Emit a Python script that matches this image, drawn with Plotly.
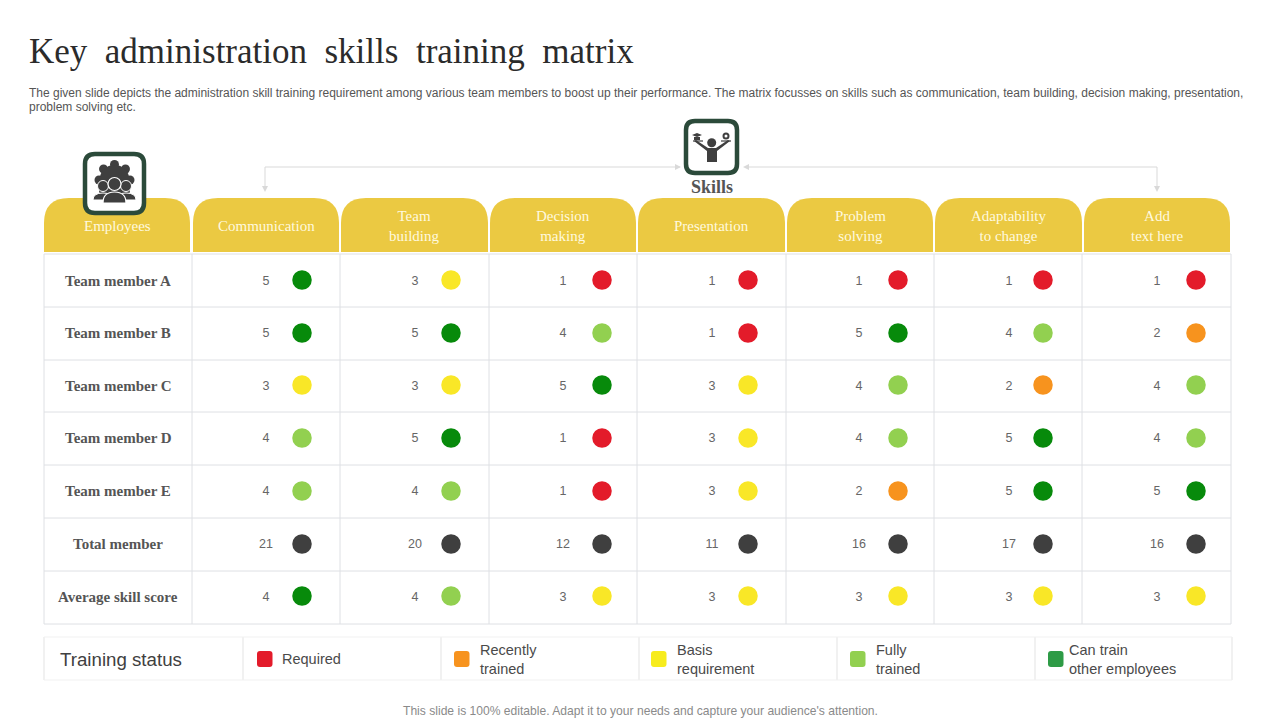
"""Key administration skills training matrix, drawn on a 1280x720 pixel axis."""

import math

import plotly.graph_objects as go

TITLE = "Key\u00a0 administration\u00a0 skills\u00a0 training\u00a0 matrix"
SUBTITLE = [
    "The given slide depicts the administration skill training requirement among various team members to boost up their performance. The matrix focusses on skills such as communication, team building, decision making, presentation,",
    "problem solving etc.",
]
FOOTER = "This slide is 100% editable. Adapt it to your needs and capture your audience's attention."

headers = [
    "Employees",
    "Communication",
    "Team<br>building",
    "Decision<br>making",
    "Presentation",
    "Problem<br>solving",
    "Adaptability<br>to change",
    "Add<br>text here",
]
rows = [
    "Team member A",
    "Team member B",
    "Team member C",
    "Team member D",
    "Team member E",
    "Total member",
    "Average skill score",
]
member_a = [5, 3, 1, 1, 1, 1, 1]
member_b = [5, 5, 4, 1, 5, 4, 2]
member_c = [3, 3, 5, 3, 4, 2, 4]
member_d = [4, 5, 1, 3, 4, 5, 4]
member_e = [4, 4, 1, 3, 2, 5, 5]
totals = [21, 20, 12, 11, 16, 17, 16]
averages = [4, 4, 3, 3, 3, 3, 3]
average_status = [5, 4, 3, 3, 3, 3, 3]

legend_labels = ["Required", "Recently<br>trained", "Basis<br>requirement", "Fully<br>trained", "Can train<br>other employees"]
legend_colors = ["#E31B2A", "#F7931E", "#F7EC1D", "#92D050", "#2E9B46"]
status_colors = {1: "#E31B2A", 2: "#F7931E", 3: "#F9E727", 4: "#92D050", 5: "#078A0B"}
TOTAL_DOT = "#3F3F3F"

# layout, in pixels
col_lines = [44, 192, 340, 489, 637, 786, 934, 1082, 1231]
row_lines = [254, 307, 360, 412, 465, 518, 571, 624]
row_y = [281, 333, 386, 438, 491, 544, 597]
dot_y = [280, 333, 385, 438, 491, 544, 596]
value_y = [282, 334, 387, 439, 492, 545, 598]
value_x = [266, 415, 563, 712, 859, 1009, 1157]
dot_x = [302, 451, 602, 748, 898, 1043, 1196]
header_left = [44, 193, 341, 490, 638, 787, 935, 1084]
header_right = [190, 339, 488, 636, 785, 933, 1082, 1230]
legend_lines = [44, 243, 441, 639, 837, 1035, 1232]
swatch_left = [257, 454, 651, 850, 1048]
legend_text_x = [282, 480, 677, 876, 1069]

HEADER_COLOR = "#EBC942"
HEADER_TEXT = "#FFF9DF"
GRID = "#DEE0E4"
ICON_FRAME = "#2B4A3A"
ICON = "#3F3F3F"
TEXT = "#555555"
SERIF = "Liberation Serif"
SANS = "Liberation Sans"


def rounded_rect(x0, y0, x1, y1, r):
    return (
        f"M{x0 + r},{y0} L{x1 - r},{y0} Q{x1},{y0} {x1},{y0 + r} L{x1},{y1 - r} Q{x1},{y1} {x1 - r},{y1} "
        f"L{x0 + r},{y1} Q{x0},{y1} {x0},{y1 - r} L{x0},{y0 + r} Q{x0},{y0} {x0 + r},{y0} Z"
    )


def tab(x0, y0, x1, y1, r):
    return f"M{x0},{y1} L{x0},{y0 + r} Q{x0},{y0} {x0 + r},{y0} L{x1 - r},{y0} Q{x1},{y0} {x1},{y0 + r} L{x1},{y1} Z"


def line(x0, y0, x1, y1, color=GRID, width=1):
    return dict(type="line", x0=x0, y0=y0, x1=x1, y1=y1, line=dict(color=color, width=width), layer="below")


def path(d, fill=ICON, stroke=None, width=0):
    return dict(type="path", path=d, fillcolor=fill, line=dict(color=stroke or fill, width=width), layer="above")


def circle(cx, cy, r, fill=ICON, stroke=None, width=0):
    return dict(
        type="circle",
        x0=cx - r,
        y0=cy - r,
        x1=cx + r,
        y1=cy + r,
        fillcolor=fill,
        line=dict(color=stroke or fill, width=width),
        layer="above",
    )


def label(x, y, text, size, color=TEXT, family=SANS, anchor="left"):
    return dict(
        x=x,
        y=y,
        text=text,
        showarrow=False,
        xanchor=anchor,
        yanchor="middle",
        align=anchor,
        borderpad=0,
        font=dict(size=size, color=color, family=family),
    )


shapes = []
annotations = []

# header tabs
for i, name in enumerate(headers):
    shapes.append(path(tab(header_left[i], 198, header_right[i], 252, 25), fill=HEADER_COLOR))
    annotations.append(
        label((header_left[i] + header_right[i]) / 2, 225.5, name, 15, HEADER_TEXT, SERIF, "center")
    )

# table grid
for x in col_lines:
    shapes.append(line(x, row_lines[0], x, row_lines[-1]))
for y in row_lines:
    shapes.append(line(col_lines[0], y, col_lines[-1], y))
for y, name in zip(row_y, rows):
    annotations.append(label(118, y, f"<b>{name}</b>", 15, TEXT, SERIF, "center"))

# connector from the skills icon to the first and last column
connector = "#D9D9D9"
shapes += [
    line(265, 167, 680, 167, connector),
    line(265, 167, 265, 188, connector),
    line(746, 167, 1157, 167, connector),
    line(1157, 167, 1157, 188, connector),
    path("M681,167 L675,164 L675,170 Z", connector),
    path("M743,167 L749,164 L749,170 Z", connector),
    path("M265,192 L262,186 L268,186 Z", connector),
    path("M1157,192 L1154,186 L1160,186 Z", connector),
]

# employees icon: gear behind three people
shapes.append(path(rounded_rect(85, 154, 144, 213, 10), "#FFFFFF", ICON_FRAME, 4.5))
for k in range(8):
    a = k * math.pi / 4 - math.pi / 2
    shapes.append(circle(114.5 + 15.5 * math.cos(a), 180 + 15.5 * math.sin(a), 4.5))
shapes.append(circle(114.5, 180, 15))
for cx in (103, 126):
    shapes.append(circle(cx, 186, 5.5, ICON, "#FFFFFF", 1))
    shapes.append(path(f"M{cx - 10},200 Q{cx - 10},193 {cx},193 Q{cx + 10},193 {cx + 10},200 Z", ICON, "#FFFFFF", 1))
shapes.append(circle(114.5, 184, 6.5, ICON, "#FFFFFF", 1.2))
shapes.append(path("M103,203 Q103,192 114.5,192 Q126,192 126,203 Z", ICON, "#FFFFFF", 1.2))

# skills icon: person holding a cap and a gear
shapes.append(path(rounded_rect(686, 121, 737, 173, 9), "#FFFFFF", ICON_FRAME, 4.5))
shapes.append(circle(711.7, 142.7, 4.5))
shapes.append(path("M707,162 L707,151 L694,141 L696,140 L708,148 L716,148 L728,140 L730,141 L717,151 L717,162 Z"))
shapes.append(line(693, 141, 703, 141, ICON, 1.2) | dict(layer="above"))
shapes.append(line(721, 141, 731, 141, ICON, 1.2) | dict(layer="above"))
shapes.append(path("M692,135 L697,133 L702,135 L697,137 Z"))
shapes.append(path("M694,137 L700,137 L700,140 L694,140 Z"))
shapes.append(circle(726, 136, 2.5, "#FFFFFF", ICON, 2))

# training status legend
for x in legend_lines:
    shapes.append(line(x, 637, x, 680, "#E3E3E3", 1))
shapes.append(line(44, 637, 1232, 637, "#F1F1F1", 1))
shapes.append(line(44, 680, 1232, 680, "#F1F1F1", 1))
for x, text_x, name, color in zip(swatch_left, legend_text_x, legend_labels, legend_colors):
    shapes.append(path(rounded_rect(x, 651, x + 15.5, 667, 3), color))
    annotations.append(label(text_x - 1, 659, name, 14.5, "#4A4A4A"))
annotations.append(label(59, 659, "Training status", 18.7, "#404040"))

# free text
annotations.append(label(28, 51, TITLE, 35, "#2B2B2B", SERIF))
annotations.append(label(28, 92.5, SUBTITLE[0], 12, "#555555"))
annotations.append(label(28, 107, SUBTITLE[1], 12, "#555555"))
annotations.append(label(712, 187, "<b>Skills</b>", 18, TEXT, SERIF, "center"))
annotations.append(label(640, 711, FOOTER, 12.1, "#8A8A8A", SANS, "center"))

# cell values and status dots
table = [member_a, member_b, member_c, member_d, member_e, totals, averages]
xs_dot, xs_val, ys_dot, ys_val, values, colors = [], [], [], [], [], []
for r, row in enumerate(table):
    for c, value in enumerate(row):
        xs_dot.append(dot_x[c])
        xs_val.append(value_x[c])
        ys_dot.append(dot_y[r])
        ys_val.append(value_y[r])
        values.append(str(value))
        if rows[r] == "Total member":
            colors.append(TOTAL_DOT)
        elif rows[r] == "Average skill score":
            colors.append(status_colors[average_status[c]])
        else:
            colors.append(status_colors[value])

fig = go.Figure()
fig.add_trace(
    go.Scatter(
        x=xs_val,
        y=ys_val,
        mode="text",
        text=values,
        textposition="middle center",
        textfont=dict(size=12.5, color="#666666", family=SANS),
        hoverinfo="skip",
    )
)
fig.add_trace(
    go.Scatter(
        x=xs_dot,
        y=ys_dot,
        mode="markers",
        marker=dict(size=19.5, color=colors, line=dict(width=0)),
        hoverinfo="skip",
    )
)

fig.update_layout(
    width=1280,
    height=720,
    margin=dict(l=0, r=0, t=0, b=0),
    paper_bgcolor="#FFFFFF",
    plot_bgcolor="#FFFFFF",
    showlegend=False,
    shapes=shapes,
    annotations=annotations,
)
fig.update_xaxes(range=[0, 1280], visible=False, fixedrange=True)
fig.update_yaxes(range=[720, 0], visible=False, fixedrange=True)

# the page's default body margin would push the whole slide 8px down and right
fig.write_html(
    "out.html",
    config={"displayModeBar": False},
    post_script="document.body.style.margin='0';document.body.style.overflow='hidden';",
)
